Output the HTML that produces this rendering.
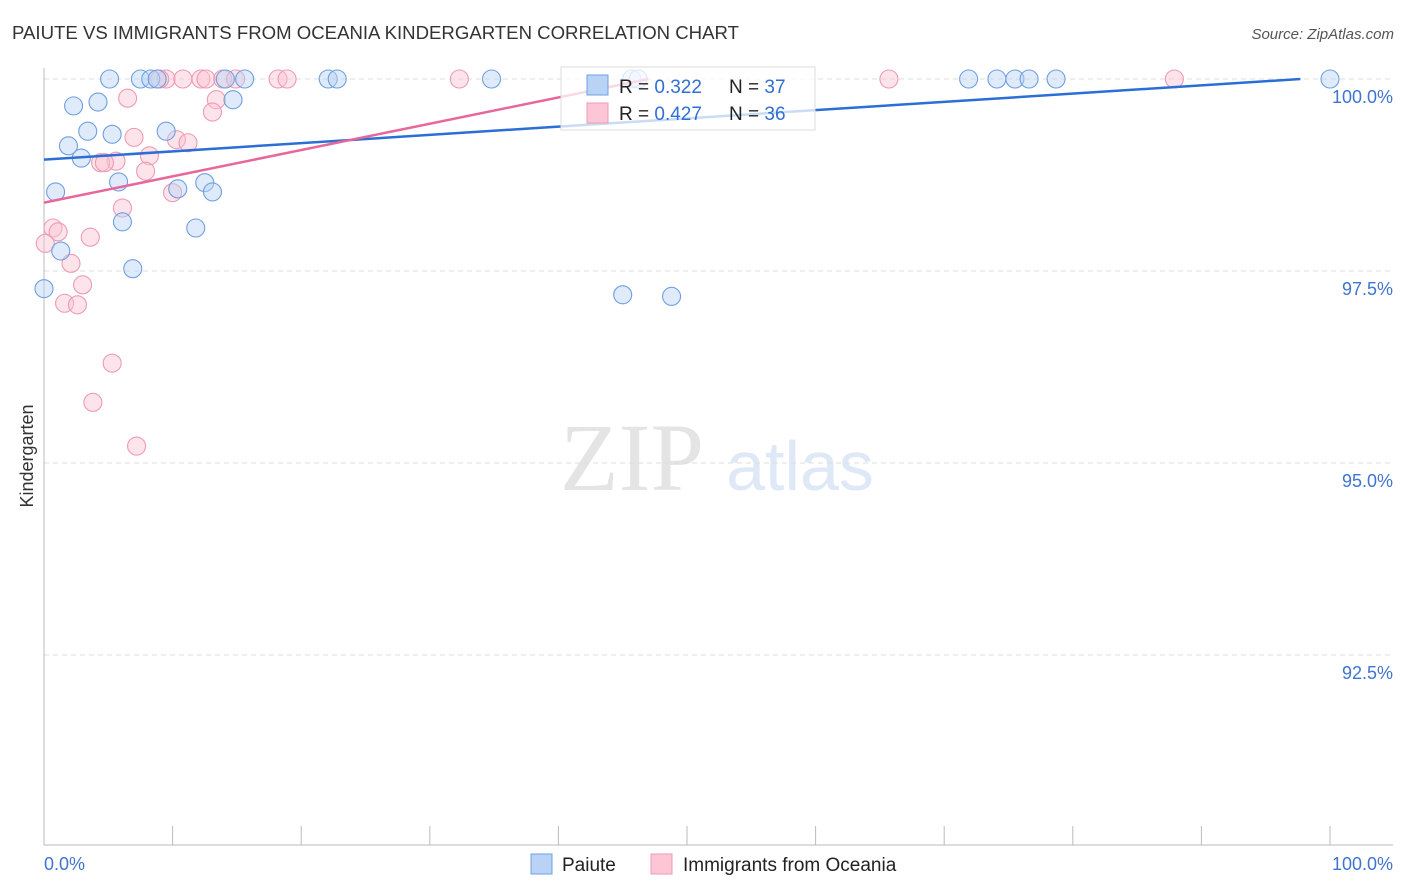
<!DOCTYPE html>
<html><head><meta charset="utf-8"><style>
body{margin:0;background:#fff;font-family:"Liberation Sans",sans-serif;}
svg{display:block}
</style></head><body>
<svg id="c" width="1406" height="892">
<text x="12" y="39" font-size="18.6" fill="#333">PAIUTE VS IMMIGRANTS FROM OCEANIA KINDERGARTEN CORRELATION CHART</text>
<text x="1394" y="39" font-size="15" fill="#555" font-style="italic" text-anchor="end">Source: ZipAtlas.com</text>
<text x="632" y="490" font-size="96" fill="#e4e4e4" font-family="Liberation Serif" text-anchor="middle">ZIP</text>
<text x="800" y="490" font-size="70" fill="#dfe8f6" text-anchor="middle">atlas</text>
<text transform="translate(33,456) rotate(-90)" font-size="18" fill="#333" text-anchor="middle">Kindergarten</text>
<g id="grid"></g><g id="pts"></g><g id="lines"></g>
<g>
<rect x="561" y="67" width="254" height="63" fill="#fff" fill-opacity="0.75" stroke="#ddd"/>
<rect x="587" y="75" width="21" height="20" fill="#b8d3f5" stroke="#6f9fe0"/>
<rect x="587" y="103" width="21" height="20" fill="#fcc6d6" stroke="#ee9ab4"/>
<text x="619" y="93" font-size="19" fill="#222">R = <tspan fill="#2f6fd1">0.322</tspan><tspan x="729">N = </tspan><tspan fill="#2f6fd1">37</tspan></text>
<text x="619" y="120" font-size="19" fill="#222">R = <tspan fill="#2f6fd1">0.427</tspan><tspan x="729">N = </tspan><tspan fill="#2f6fd1">36</tspan></text>
</g>
<g>
<rect x="531" y="854" width="21" height="20" fill="#b8d3f5" stroke="#6f9fe0"/>
<text x="562" y="871" font-size="19" fill="#222">Paiute</text>
<rect x="651" y="854" width="21" height="20" fill="#fcc6d6" stroke="#ee9ab4"/>
<text x="683" y="871" font-size="19" fill="#222">Immigrants from Oceania</text>
</g>
</svg>
<script>
const yTicks=[100,97.5,95,92.5];
const yTickLabels=["100.0%","97.5%","95.0%","92.5%"];
const xTickLabels=["0.0%","100.0%"];
const paiuteX=[5.1,7.5,8.3,8.8,14.1,15.6,22.1,22.8,34.8,45.7,46.2,71.9,74.1,75.5,76.6,78.7,100,2.3,4.2,14.7,3.4,1.9,5.3,9.5,2.9,0.9,5.8,10.4,12.5,13.1,6.1,11.8,1.3,6.9,0,45.0,48.8];
const paiuteY=[100,100,100,100,100,100,100,100,100,100,100,100,100,100,100,100,100,99.65,99.70,99.73,99.32,99.13,99.28,99.32,98.97,98.53,98.66,98.57,98.65,98.53,98.14,98.06,97.76,97.53,97.27,97.19,97.17];
const oceaniaX=[9.5,9.0,10.8,12.2,12.6,13.9,14.9,18.2,18.9,32.3,65.7,87.9,6.5,13.4,13.1,7.0,10.3,11.2,8.2,5.6,4.4,4.7,7.9,10.0,6.1,0.7,1.1,3.6,0.1,2.1,3.0,1.6,2.6,5.3,3.8,7.2];
const oceaniaY=[100,100,100,100,100,100,100,100,100,100,100,100,99.75,99.73,99.57,99.24,99.21,99.17,99.0,98.93,98.91,98.91,98.80,98.52,98.32,98.06,98.01,97.94,97.86,97.60,97.32,97.08,97.06,96.30,95.79,95.22];
const paiuteTrend=[98.95,100,97.7];
const oceaniaTrend=[98.39,100,47];
const X=v=>44+v*12.86, Y=v=>79+(100-v)*76.8;
const NS="http://www.w3.org/2000/svg";
function mk(t,a,p){const e=document.createElementNS(NS,t);for(const k in a)e.setAttribute(k,a[k]);p.appendChild(e);return e;}
const g=document.getElementById('grid');
yTicks.forEach((t,i)=>{
 const l=mk('line',{x1:44,x2:1393,y1:Y(t),y2:Y(t),stroke:'#ddd','stroke-dasharray':'5,4'},g);
 
 
 const tx=mk('text',{x:1393,y:Y(t)+24,'font-size':18,fill:'#3f74d0','text-anchor':'end'},g);
 tx.textContent=yTickLabels[i];
 
 
});
const ax=mk('line',{x1:44,x2:44,y1:68,y2:845,stroke:'#bbb'},g);


const bx=mk('line',{x1:44,x2:1393,y1:845,y2:845,stroke:'#bbb'},g);


for(let i=0;i<=10;i++){
 const t=mk('line',{x1:X(i*10),x2:X(i*10),y1:826,y2:845,stroke:'#bbb'},g);
 
 
}
[[0,'start'],[100,'end']].forEach((d,i)=>{
 const t=mk('text',{x:d[0]==0?44:1393,y:870,'font-size':18,fill:'#3f74d0','text-anchor':d[1]},g);
 t.textContent=xTickLabels[i];
 
 
});
const p=document.getElementById('pts');
function pts(xs,ys,fill,stroke,name){
 xs.forEach((x,i)=>{
  const c=mk('circle',{cx:X(x),cy:Y(ys[i]),r:9,fill:fill,'fill-opacity':0.45,stroke:stroke,'stroke-width':1.1},p);
  
  
 });
}
pts(oceaniaX,oceaniaY,'#fbc3d3','#ee9ab4','oceania-point');
pts(paiuteX,paiuteY,'#b8d3f5','#6f9fe0','paiute-point');
const L=document.getElementById('lines');
const l1=mk('line',{x1:X(0),y1:Y(paiuteTrend[0]),x2:X(paiuteTrend[2]),y2:Y(paiuteTrend[1]),stroke:'#2b6fd6','stroke-width':2.5},L);


const l2=mk('line',{x1:X(0),y1:Y(oceaniaTrend[0]),x2:X(oceaniaTrend[2]),y2:Y(oceaniaTrend[1]),stroke:'#e8679a','stroke-width':2.5},L);


</script>
</body></html>
